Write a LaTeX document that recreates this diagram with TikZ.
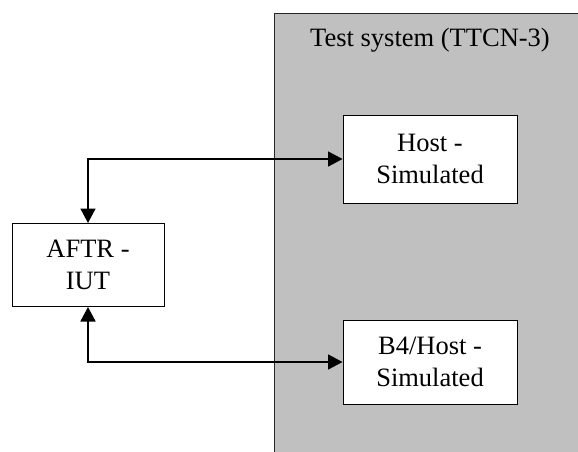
\documentclass[tikz,border=0pt]{standalone}
\usepackage{fontspec}
\setmainfont{Liberation Serif}
\usetikzlibrary{arrows.meta}
\definecolor{sysgray}{RGB}{192,192,192}
\begin{document}
\begin{tikzpicture}[x=1pt,y=-1pt,
  txt/.style={font=\fontsize{26.5}{31.8}\selectfont, align=center},
  blk/.style={txt, draw=black, line width=1pt, fill=white, inner sep=0pt},
  conn/.style={line width=1.6pt, {Triangle[length=14.5pt,width=15pt]}-{Triangle[length=14.5pt,width=15pt]}}]
\useasboundingbox (0,0) rectangle (578,451);
\fill[sysgray] (274,13) rectangle (582,455);
\draw[line width=1pt, draw={rgb,255:red,40;green,40;blue,40}] (274,455) -- (274,13) -- (582,13);
\node[txt] (title) at (430,40) {Test system (TTCN-3)};
\node[blk, minimum width=174pt, minimum height=88pt] (host) at (430,159) {Host -\\Simulated};
\node[blk, minimum width=174pt, minimum height=84pt] (b4) at (430,362) {B4/Host -\\Simulated};
\node[blk, minimum width=152pt, minimum height=83pt] (aftr) at (88,265) {AFTR -\\IUT};
\draw[conn] (aftr.north) |- (host.west);
\draw[conn] (aftr.south) |- (b4.west);
\end{tikzpicture}
\end{document}
